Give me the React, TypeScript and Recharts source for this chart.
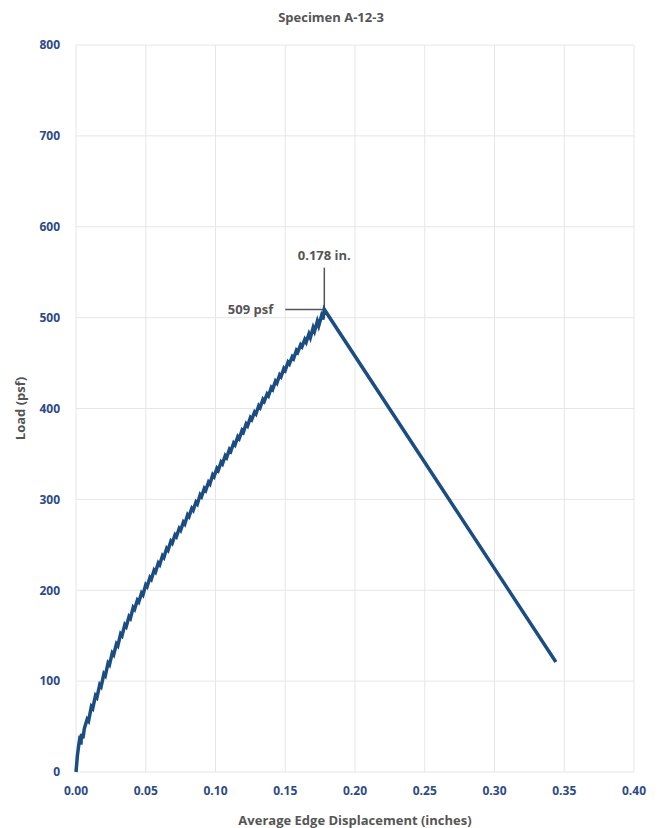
import { CartesianGrid, Line, LineChart, ReferenceLine, XAxis, YAxis } from "recharts"

// average edge displacement (in)
const disp = [
  0, 0.001, 0.002, 0.003, 0.0035, 0.004, 0.005, 0.006, 0.008, 0.009,
  0.011, 0.012, 0.014, 0.015, 0.017, 0.018, 0.02, 0.021, 0.023, 0.024,
  0.026, 0.027, 0.029, 0.03, 0.032, 0.033, 0.035, 0.036, 0.038, 0.039,
  0.041, 0.042, 0.044, 0.045, 0.047, 0.048, 0.05, 0.051, 0.053, 0.054,
  0.056, 0.057, 0.059, 0.06, 0.062, 0.063, 0.065, 0.066, 0.068, 0.069,
  0.071, 0.072, 0.074, 0.075, 0.077, 0.078, 0.08, 0.081, 0.083, 0.084,
  0.086, 0.087, 0.089, 0.09, 0.092, 0.093, 0.095, 0.096, 0.098, 0.099,
  0.101, 0.102, 0.104, 0.105, 0.107, 0.108, 0.11, 0.111, 0.113, 0.114,
  0.116, 0.117, 0.119, 0.12, 0.122, 0.123, 0.125, 0.126, 0.128, 0.129,
  0.131, 0.132, 0.134, 0.135, 0.137, 0.138, 0.14, 0.141, 0.143, 0.144,
  0.146, 0.147, 0.149, 0.15, 0.152, 0.153, 0.155, 0.156, 0.158, 0.159,
  0.161, 0.162, 0.164, 0.165, 0.167, 0.168, 0.17, 0.171, 0.173, 0.174,
  0.176, 0.177, 0.178, 0.344,
]

// load (psf)
const load = [
  0, 18, 30, 40, 30, 42, 37, 48, 58, 56,
  72, 70, 84, 82, 96, 94, 108, 106, 120, 118,
  131, 129, 141, 139, 152, 150, 162, 160, 171, 169,
  181, 179, 189, 187, 197, 195, 206, 204, 214, 212,
  222, 220, 230, 228, 238, 236, 246, 244, 254, 252,
  261, 259, 268, 266, 275, 273, 283, 281, 290, 288,
  297, 295, 305, 303, 312, 310, 319, 317, 327, 325,
  334, 332, 341, 339, 348, 346, 355, 353, 362, 360,
  369, 367, 376, 374, 383, 381, 390, 388, 396, 394,
  403, 401, 410, 408, 416, 414, 423, 421, 430, 428,
  437, 435, 444, 442, 451, 449, 457, 455, 464, 462,
  470, 468, 476, 473, 482, 478, 489, 485, 496, 491,
  502, 498, 509, 121,
]

const xTicks = [0, 0.05, 0.1, 0.15, 0.2, 0.25, 0.3, 0.35, 0.4]
const yTicks = [0, 100, 200, 300, 400, 500, 600, 700, 800]

const peakDisp = 0.178
const peakLoad = 509

const data = disp.map((d, i) => ({ disp: d, load: load[i] }))

const font = "'Open Sans', 'Noto Sans', sans-serif"
const tickStyle = { fontSize: 12, fontWeight: 700, fill: "#2c4a86", fontFamily: font }
const textStyle = { fontSize: 13, fontWeight: 700, fill: "#555555", fontFamily: font }

export default function App() {
  return (
    <div style={{ position: "absolute", left: 0, top: 0, width: 662, height: 828, background: "#fff" }}>
      <div
        style={{
          position: "absolute",
          top: 8,
          width: 662,
          textAlign: "center",
          fontFamily: font,
          fontWeight: 700,
          fontSize: 13,
          color: "#555",
        }}
      >
        Specimen A-12-3
      </div>
      <LineChart width={662} height={828} data={data} margin={{ top: 45, right: 28, bottom: 0, left: 0 }}>
        <CartesianGrid stroke="#e6e6e6" />
        <XAxis
          dataKey="disp"
          type="number"
          domain={[0, 0.4]}
          ticks={xTicks}
          tickFormatter={(v) => v.toFixed(2)}
          tick={tickStyle}
          tickLine={false}
          axisLine={false}
          tickMargin={8}
          height={56}
          label={{ value: "Average Edge Displacement (inches)", position: "insideBottom", offset: 3, style: textStyle }}
        />
        <YAxis
          type="number"
          domain={[0, 800]}
          ticks={yTicks}
          tick={tickStyle}
          tickLine={false}
          axisLine={false}
          tickMargin={10}
          width={76}
          label={{ value: "Load (psf)", angle: -90, position: "insideLeft", offset: 20, style: { ...textStyle, textAnchor: "middle" } }}
        />
        <ReferenceLine
          segment={[{ x: peakDisp, y: peakLoad }, { x: peakDisp, y: 555 }]}
          stroke="#555"
          strokeWidth={1.5}
          label={{ value: "0.178 in.", position: "top", offset: 8, style: textStyle }}
        />
        <ReferenceLine
          segment={[{ x: 0.15, y: peakLoad }, { x: peakDisp, y: peakLoad }]}
          stroke="#555"
          strokeWidth={1.5}
          label={{ value: "509 psf", position: "left", offset: 12, style: textStyle }}
        />
        <Line
          dataKey="load"
          type="linear"
          stroke="#1b4d82"
          strokeWidth={3.5}
          dot={false}
          isAnimationActive={false}
        />
      </LineChart>
    </div>
  )
}
